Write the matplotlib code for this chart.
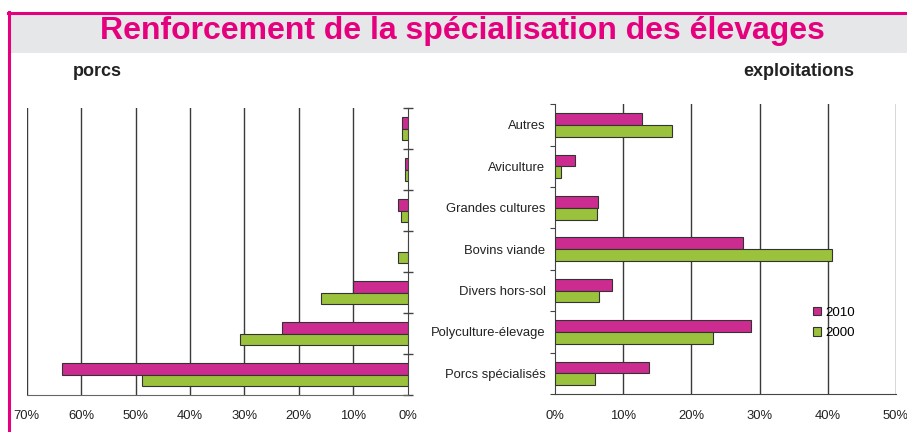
import matplotlib
matplotlib.use("Agg")
import matplotlib.pyplot as plt
from matplotlib.patches import Rectangle
from matplotlib.lines import Line2D
import numpy as np

plt.rcParams['font.family'] = ['Liberation Sans', 'DejaVu Sans']

categories = ["Autres", "Aviculture", "Grandes cultures", "Bovins viande",
              "Divers hors-sol", "Polyculture-élevage", "Porcs spécialisés"]
porcs_2010 = [1.0, 0.5, 1.7, 0.0, 10.0, 23.1, 63.5]
porcs_2000 = [1.0, 0.5, 1.2, 1.7, 15.9, 30.8, 48.9]
exploit_2010 = [12.8, 2.9, 6.3, 27.5, 8.3, 28.7, 13.7]
exploit_2000 = [17.1, 0.9, 6.1, 40.7, 6.4, 23.2, 5.8]
left_ticks = [70, 60, 50, 40, 30, 20, 10, 0]
right_ticks = [0, 10, 20, 30, 40, 50]
series_labels = ["2010", "2000"]
title = "Renforcement de la spécialisation des élevages"

C2010 = "#CC2C8F"
C2000 = "#9BC23C"
EDGE = "#333333"
PINK = "#E5007E"
GRID = "#3a3a3a"
TXT = "#222222"

W, H = 907, 432
fig = plt.figure(figsize=(W / 100, H / 100), dpi=100)

def fx(px):
    return px / W

def fy(py):
    return 1 - py / H

# title band and border
fig.patches.append(Rectangle((fx(10), fy(52.7)), 1 - fx(10), fy(13) - fy(52.7),
                             transform=fig.transFigure, facecolor="#E6E7E8",
                             edgecolor="none", zorder=0))
fig.lines.append(Line2D([fx(8), 1], [fy(12.5), fy(12.5)], transform=fig.transFigure,
                        color=PINK, lw=2.2))
fig.lines.append(Line2D([fx(9.2), fx(9.2)], [fy(12), 0], transform=fig.transFigure,
                        color=PINK, lw=2.2))
fig.text(fx(462), fy(31.5), title, ha="center", va="center", color=PINK,
         fontsize=23, fontweight="bold")
fig.text(fx(97), fy(72), "porcs", ha="center", va="center", color=TXT,
         fontsize=13, fontweight="bold")
fig.text(fx(799), fy(72), "exploitations", ha="center", va="center", color=TXT,
         fontsize=13, fontweight="bold")

y = np.arange(len(categories))
bh = 0.285

# left chart
axL = fig.add_axes([fx(26.7), fy(395), fx(407.7) - fx(26.7), fy(108) - fy(395)])
axL.barh(y - bh / 2, porcs_2010, height=bh, color=C2010, edgecolor=EDGE, lw=0.8, zorder=3)
axL.barh(y + bh / 2, porcs_2000, height=bh, color=C2000, edgecolor=EDGE, lw=0.8, zorder=3)
axL.set_xlim(70, 0)
axL.set_ylim(len(categories) - 0.5, -0.5)
axL.set_xticks(left_ticks)
axL.set_xticklabels([f"{t}%" for t in left_ticks])
for t in left_ticks[:-1]:
    axL.axvline(t, color=GRID, lw=1, zorder=1)
for s in ["top", "left"]:
    axL.spines[s].set_visible(False)
axL.spines["bottom"].set_color("#666666")
axL.spines["right"].set_color("#444444")
axL.yaxis.tick_right()
axL.set_yticks(np.arange(-0.5, len(categories) + 0.5, 1))
axL.set_yticklabels([])
axL.tick_params(axis="y", direction="inout", length=7, color="#444444", width=1)
axL.tick_params(axis="x", length=0, pad=11, labelsize=9.4, labelcolor=TXT)

# right chart
axR = fig.add_axes([fx(555.3), fy(394), fx(895.7) - fx(555.3), fy(104.3) - fy(394)])
b1 = axR.barh(y - bh / 2, exploit_2010, height=bh, color=C2010, edgecolor=EDGE, lw=0.8,
              zorder=3, label=series_labels[0])
b2 = axR.barh(y + bh / 2, exploit_2000, height=bh, color=C2000, edgecolor=EDGE, lw=0.8,
              zorder=3, label=series_labels[1])
axR.set_xlim(0, 50)
axR.set_ylim(len(categories) - 0.5, -0.5)
axR.set_xticks(right_ticks)
axR.set_xticklabels([f"{t}%" for t in right_ticks])
for t in right_ticks[1:]:
    axR.axvline(t, color=GRID, lw=1, zorder=1)
for s in ["top", "right"]:
    axR.spines[s].set_visible(False)
axR.spines["bottom"].set_color("#444444")
axR.spines["left"].set_color("#444444")
axR.set_yticks(np.arange(-0.5, len(categories) + 0.5, 1))
axR.set_yticklabels([])
axR.set_yticks(y, minor=True)
axR.set_yticklabels(categories, minor=True)
axR.tick_params(axis="y", which="major", direction="out", length=3.5, color="#444444")
axR.tick_params(axis="y", which="minor", length=0, pad=7, labelsize=9.4, labelcolor=TXT)
axR.tick_params(axis="x", length=0, pad=11.5, labelsize=9.4, labelcolor=TXT)

fig.legend(handles=[b1, b2], labels=series_labels, loc="center left",
           bbox_to_anchor=(fx(813), fy(323)), frameon=False, fontsize=9.6,
           handlelength=0.6, handleheight=0.6, handletextpad=0.3, labelspacing=0.65,
           borderpad=0, borderaxespad=0)

fig.savefig("out.png", dpi=100)
